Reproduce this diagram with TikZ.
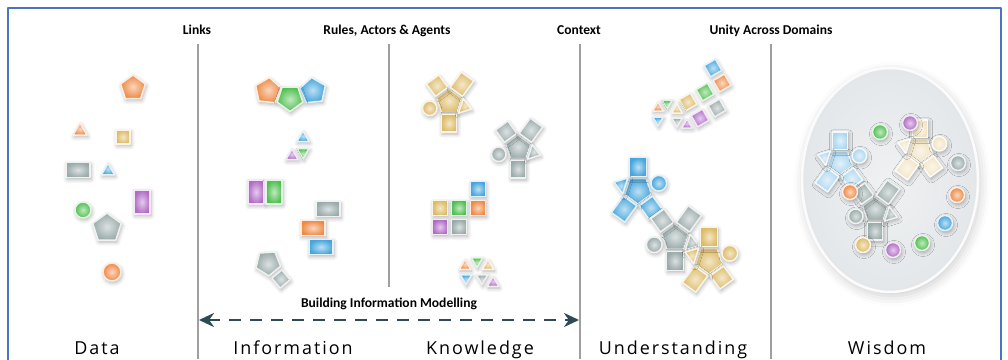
\documentclass[tikz,border=0pt]{standalone}
\usepackage{fontspec}
\setmainfont{Carlito}
\newfontfamily\stagefont[LetterSpace=11]{Open Sans}
\usetikzlibrary{arrows.meta,shadows.blur}

\definecolor{frameblue}{HTML}{4A74C0}
\definecolor{bimslate}{HTML}{2E4A52}
\definecolor{tOrange}{HTML}{EE8A45}
\definecolor{tGreen}{HTML}{4FBF4F}
\definecolor{tBlue}{HTML}{45A5DC}
\definecolor{tPurple}{HTML}{B06CC6}
\definecolor{tGrey}{HTML}{9AAAAA}
\definecolor{tGold}{HTML}{DDBB66}
\definecolor{wisdomin}{HTML}{EFF1F2}
\definecolor{wisdomout}{HTML}{E4E7EA}

% tiles: centre, size, rotation, colour
\newcommand\tilepent[4]{\path[tile=#4] (#1) +(90+#3:#2) -- +(162+#3:#2) -- +(234+#3:#2) -- +(306+#3:#2) -- +(378+#3:#2) -- cycle;}
\newcommand\tiletri[4]{\path[tile=#4] (#1) +(90+#3:#2) -- +(210+#3:#2) -- +(330+#3:#2) -- cycle;}
\newcommand\tilerect[5]{\path[tile=#5, shift={(#1)}, rotate=#4] (-#2/2,-#3/2) rectangle (#2/2,#3/2);}
\newcommand\tileball[3]{\path[tile=#3] (#1) circle[radius=#2];}
% pentagon with two arms, a foot, a ball and a wedge
\newcommand\ymotif[4]{%
  \begin{scope}[shift={(#1)}, rotate=#2, scale=#3]
    \tilepent{0,0}{10}{0}{#4}
    \tilerect{126:15.5}{11.8}{11.8}{36}{#4}
    \tilerect{54:16.9}{11.8}{14.6}{-36}{#4}
    \tilerect{270:16.4}{11.8}{13.6}{0}{#4}
    \tileball{198:15.6}{5.6}{#4}
    \path[tile=#4] (310.5:11.25) -- (342:18) -- (13.5:11.25) -- cycle;
  \end{scope}}

\begin{document}
\begin{tikzpicture}[x=1bp,y=1bp,line join=round,
  tile/.style={shade, inner color=#1!35!white, outer color=#1, draw=#1!15!white, line width=1.5bp,
    blur shadow={shadow xshift=1bp, shadow yshift=-2bp, shadow blur radius=4bp, shadow blur steps=6, shadow opacity=30}},
  stage/.style={font=\stagefont\fontsize{18}{20}\selectfont, anchor=base},
  header/.style={font=\bfseries\fontsize{13.6}{15}\selectfont, anchor=base},
  divider/.style={draw=gray!75, line width=1.5bp},
  bim/.style={draw=bimslate, line width=2.5bp, dash pattern=on 12bp off 9bp,
    {Stealth[length=15bp,width=14bp]}-{Stealth[length=15bp,width=14bp]}},
]
\useasboundingbox (0,0) rectangle (1008,359);
\draw[frameblue, line width=2bp] (8,-10) rectangle (1001,351);
%%
\foreach \x/\yb in {198/0, 389/72, 580/0, 771/0}
  \draw[divider] (\x,315) -- (\x,\yb);
\node[header] (links) at (197,325) {Links};
\node[header] (rules) at (387,325) {Rules, Actors \& Agents};
\node[header] (context) at (579,325) {Context};
\node[header] (unity) at (771,325) {Unity Across Domains};
%% data
\tilepent{133,271}{13}{0}{tOrange}
\tiletri{80,228}{8}{0}{tOrange}
\tilerect{123,222}{14}{14}{0}{tGold}
\tilerect{78,189}{24}{15}{0}{tGrey}
\tiletri{108,188}{7.5}{0}{tBlue}
\tilerect{142,157}{16}{24}{0}{tPurple}
\tileball{83,149}{8}{tGreen}
\tilepent{107,131}{15}{0}{tGrey}
\tileball{112,87}{9}{tOrange}
%% information
\tilepent{268,268}{13.5}{-6}{tOrange}
\tilepent{313,268}{13.5}{6}{tBlue}
\tilepent{290,261}{13.5}{180}{tGreen}
\tiletri{303,221}{7}{0}{tBlue}
\tiletri{303,207}{7}{180}{tGreen}
\tiletri{292,203}{7}{0}{tPurple}
\tilerect{256,167}{16}{24}{0}{tPurple}
\tilerect{274,167}{16}{24}{0}{tGreen}
\tilerect{328,150}{24}{15}{0}{tGrey}
\tilerect{313,131}{24}{15}{0}{tOrange}
\tilerect{321,112}{24}{15}{0}{tBlue}
\tilepent{268,96}{13}{-32}{tGrey}
\tilerect{281,80}{13}{13}{40}{tGrey}
%% knowledge
\ymotif{449,257}{0}{1.3}{tGold}
\ymotif{518,211}{0}{1.3}{tGrey}
\tilerect{478,170}{15}{15}{0}{tBlue}
\foreach \x/\y/\c in {440/151/tGold, 459/151/tGreen, 478/151/tOrange, 440/132/tPurple, 459/132/tGrey}
  \tilerect{\x,\y}{15}{15}{0}{\c};
\foreach \x/\y/\r/\c in {465/93/0/tOrange, 477/98/180/tGreen, 488/93/0/tGold,
                         466/81/180/tBlue, 482/81/180/tGrey, 493/76/0/tPurple}
  \tiletri{\x,\y}{6.5}{\r}{\c};
%% understanding
\foreach \x/\y/\c in {713/291/tBlue, 722/276/tOrange, 705/267/tGreen,
                      688/257/tGold, 717/251/tGrey, 700/241/tPurple}
  \tilerect{\x,\y}{13}{13}{30}{\c};
\foreach \x/\y/\r/\c in {667/256/180/tGreen, 658/251/0/tOrange, 658/239/180/tBlue,
                         677/249/0/tGold, 677/238/180/tGrey, 687/234/0/tPurple}
  \tiletri{\x,\y}{6}{\r}{\c};
\ymotif{638,169}{180}{1.4}{tBlue}
\ymotif{675,121}{0}{1.4}{tGrey}
\ymotif{709,99}{180}{1.4}{tGold}
%% wisdom
\path[shade, inner color=wisdomin, outer color=wisdomout, draw=white!97!gray, line width=2.5bp,
  blur shadow={shadow blur radius=10bp, shadow xshift=2bp, shadow yshift=-4bp, shadow opacity=20}]
  (890,179) ellipse [x radius=88, y radius=112];
\ymotif{840,197}{180}{1.3}{tBlue!45!white}
\ymotif{920,209}{180}{1.3}{tGold!40!white}
\ymotif{875,149}{0}{1.3}{tGrey}
\foreach \x/\y/\c in {880/227/tGreen, 910/236/tPurple, 958/196/tGrey, 957/164/tOrange,
                      945/136/tBlue, 922/116/tGreen, 893/109/tPurple, 863/114/tGold, 850/167/tOrange}
  \tileball{\x,\y}{7.5}{\c};
%% labels and the modelling span
\node[header] (bimlabel) at (389,52) {Building Information Modelling};
\coordinate (bimwest) at (199,39);
\coordinate (bimeast) at (579,39);
\draw[bim] (bimwest) -- (bimeast);
\node[stage] (data) at (97,5) {Data};
\node[stage] (information) at (293,5) {Information};
\node[stage] (knowledge) at (480,5) {Knowledge};
\node[stage] (understanding) at (673,5) {Understanding};
\node[stage] (wisdom) at (887,5) {Wisdom};
%
\end{tikzpicture}
\end{document}
